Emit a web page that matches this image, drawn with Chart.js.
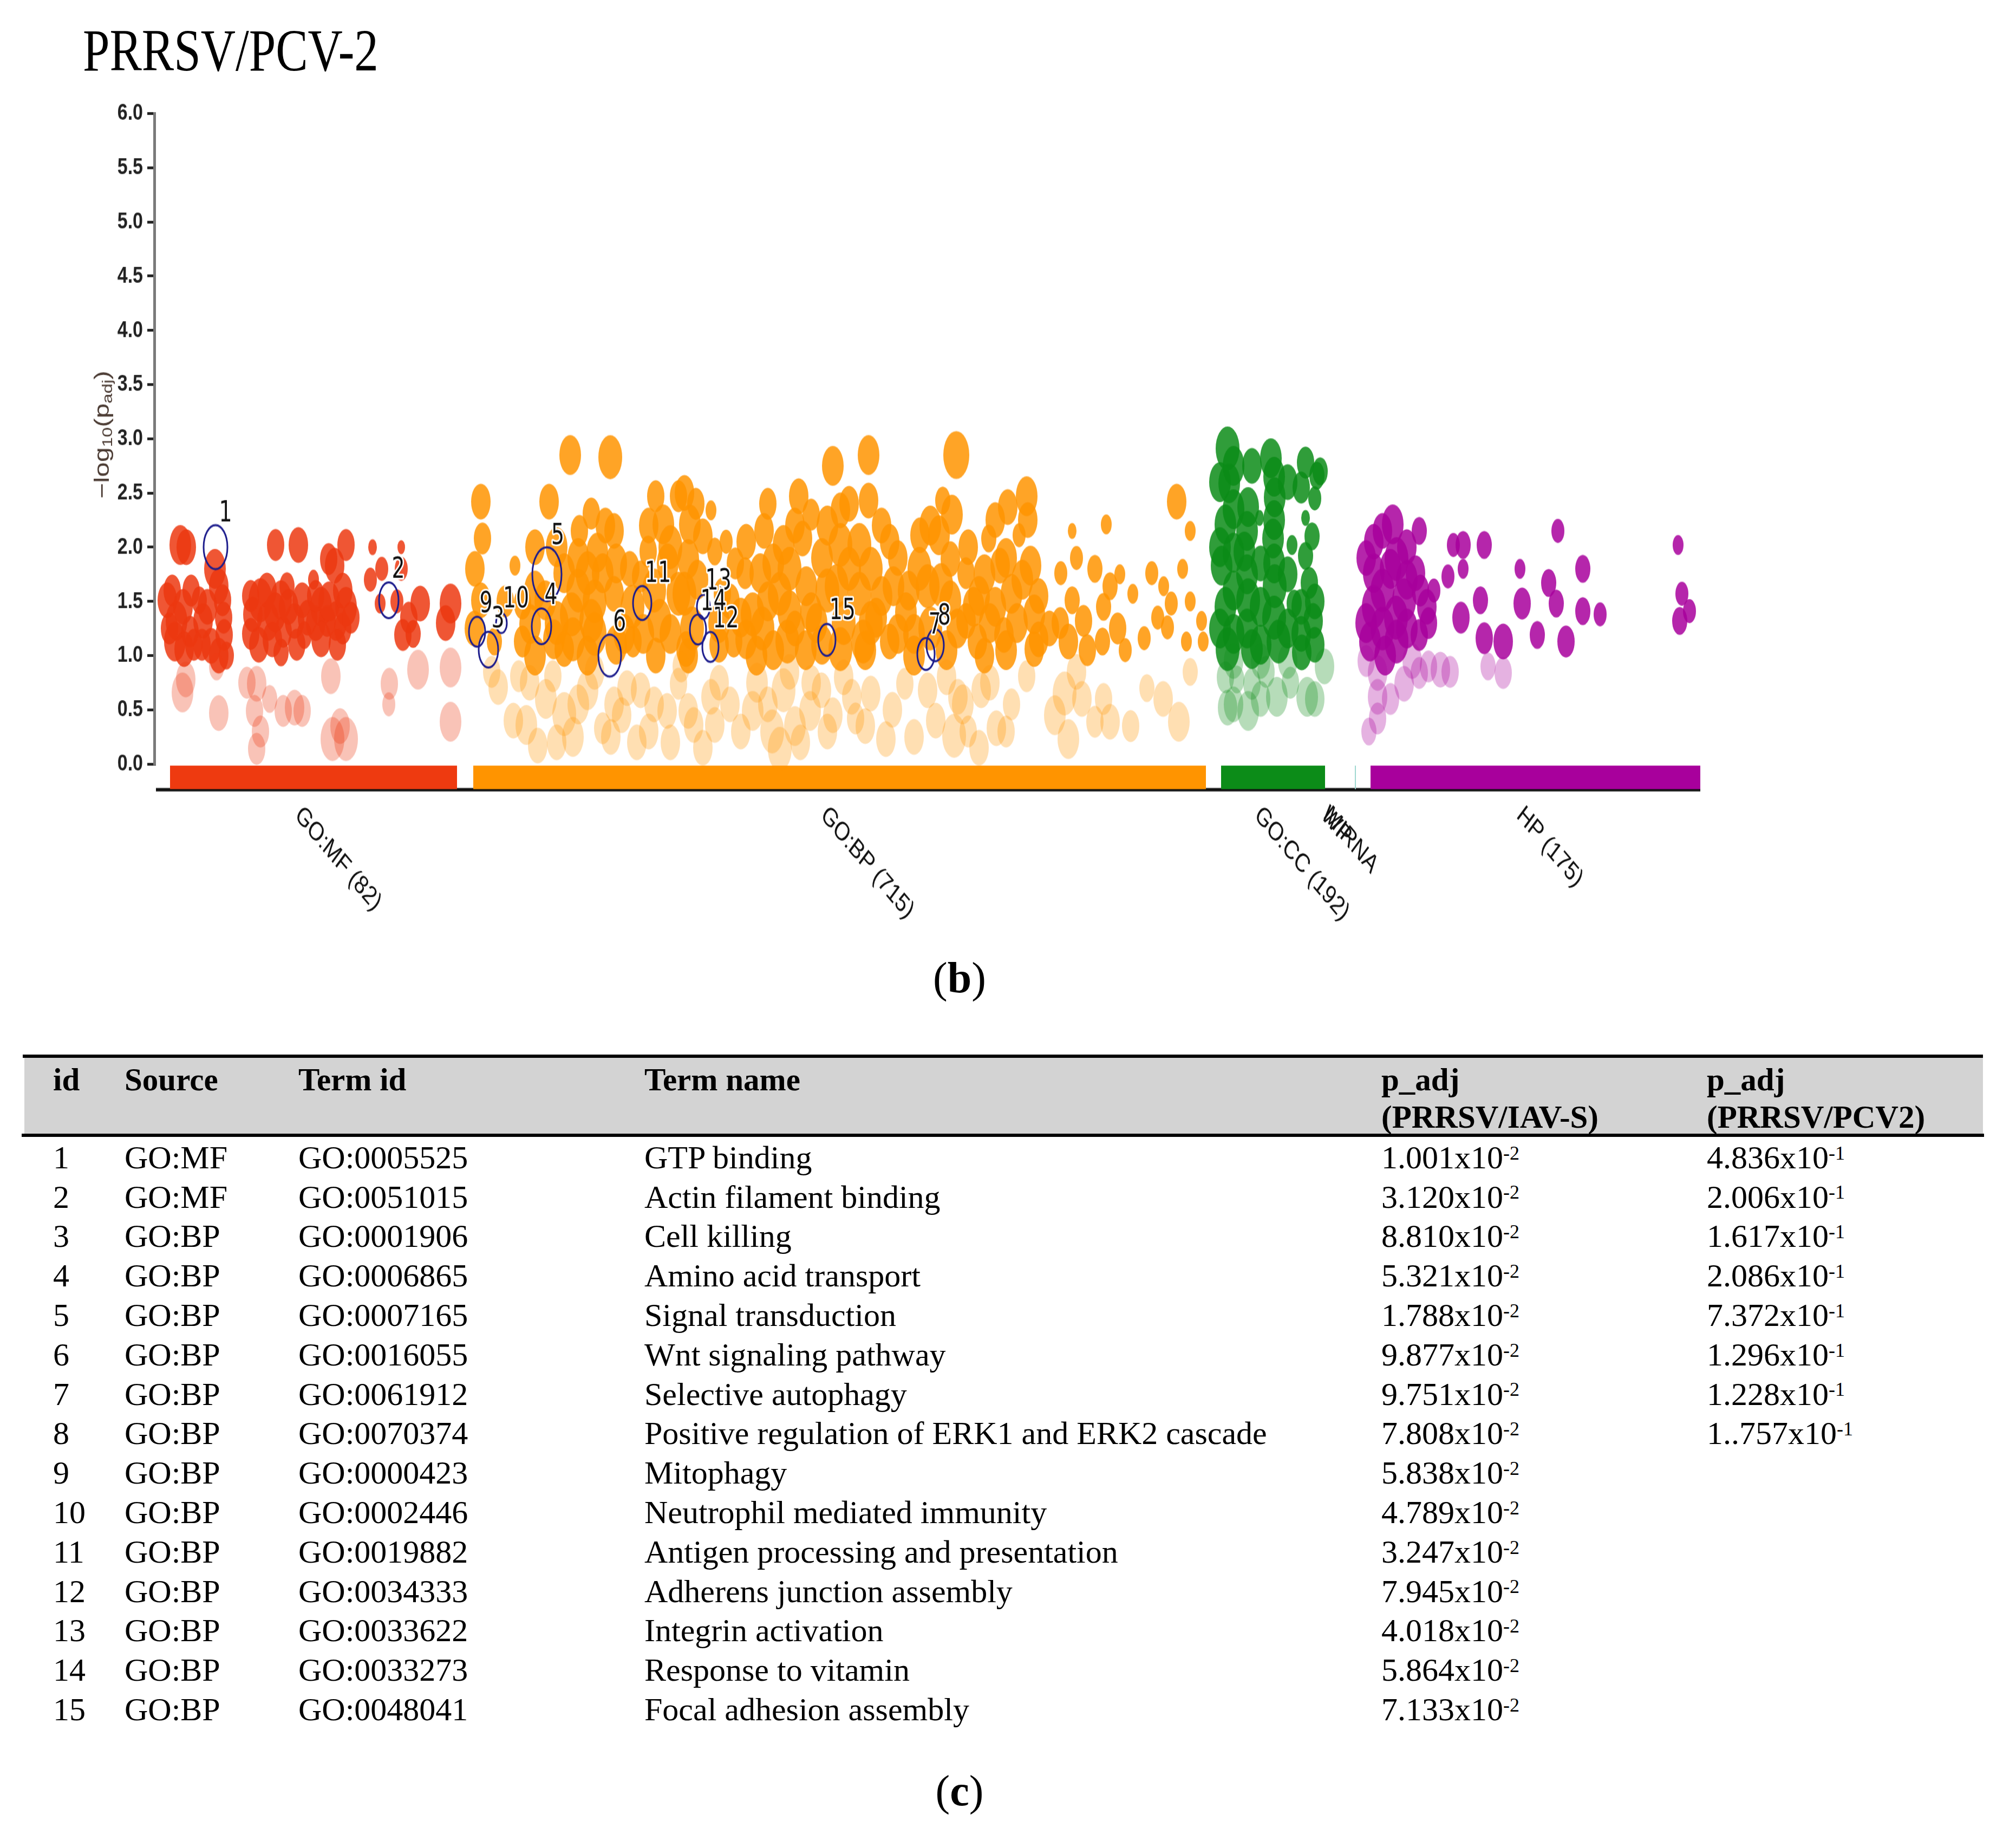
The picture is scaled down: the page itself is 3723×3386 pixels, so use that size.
<!DOCTYPE html>
<html lang="en">
<head>
<meta charset="UTF-8">
<title>PRRSV/PCV-2</title>
<script src="https://cdn.jsdelivr.net/npm/chart.js@4.4.0/dist/chart.umd.min.js"></script>
<style>
    html, body { margin: 0; padding: 0; background: #fff; }
    body {
        width: 3723px; height: 3386px; position: relative; overflow: hidden;
        font-family: "Liberation Serif", "Times New Roman", serif; color: #000;
    }
    #title {
        position: absolute; left: 153px; top: 38px;
        font-size: 89px; line-height: 89px; white-space: nowrap;
        transform: scaleY(1.24); transform-origin: 0 0;
    }
    /* the plot panel of the reference is stretched vertically */
    #plotWrap {
        position: absolute; left: 0; top: 0; width: 3723px; height: 1400px;
        transform: scaleY(1.27); transform-origin: 0 0;
    }
    .txt { position: absolute; white-space: nowrap; }
    .sup { font-size: 0.6em; position: relative; top: -0.45em; }
    .rule { position: absolute; background: #000; }
    #headBg { position: absolute; background: #d3d3d3; }
</style>
</head>
<body>

<div id="title">PRRSV/PCV-2</div>
<div id="plotWrap"><canvas id="manhattan"></canvas></div>
<div id="headBg" style="left:45px; top:1953px; width:3617px; height:140px;"></div>
<div class="rule" style="left:42px; top:1947px; width:3620px; height:6px;"></div>
<div class="rule" style="left:40px; top:2093px; width:3624px; height:6px;"></div>

<script>
    // ---- plot data (x = position along the source axis, y = -log10(p_adj), r = bubble size) ----
    const yTicks = [0, 0.5, 1, 1.5, 2, 2.5, 3, 3.5, 4, 4.5, 5, 5.5, 6];
    const xMax = 285.2;

    const sourceNames  = ['GO:MF (82)', 'GO:BP (715)', 'GO:CC (192)', 'WP', 'MIRNA', 'HP (175)'];
    const sourceStart  = [2.6, 58.6, 196.7, 218.9, 221.4, 224.3];
    const sourceEnd    = [55.6, 193.9, 215.9, 218.9, 221.6, 285.2];
    const sourceLabelX = [29.1, 126.2, 206.3, 218.6, 219.0, 254.7];
    const sourceColors = ['#ee3a10', '#ff9400', '#0c8c18', '#3a9fc0', '#9fd8d0', '#a8009c'];

    const mfPoints = [
        [4.5, 2.02, 20], [5.6, 2.0, 18], [2.1, 1.51, 18], [3.8, 1.32, 20], [3.5, 1.13, 20], [5.2, 1.06, 18],
        [6.3, 1.22, 16], [8.0, 1.51, 14], [8.7, 1.32, 18], [10.2, 1.09, 18], [11.6, 1.0, 18], [10.9, 1.8, 20],
        [12.3, 1.51, 16], [12.6, 1.19, 16], [11.6, 1.64, 18], [19.3, 1.51, 22], [17.9, 1.38, 18], [20.7, 1.32, 20],
        [22.1, 2.02, 16], [26.3, 2.02, 18], [23.1, 1.51, 20], [24.2, 1.64, 14], [23.5, 1.22, 16], [23.1, 1.03, 14],
        [27.0, 1.51, 18], [25.6, 1.32, 18], [27.4, 1.19, 14], [29.1, 1.7, 10], [30.5, 1.45, 20], [31.9, 1.89, 16],
        [33.0, 1.83, 18], [35.1, 2.02, 16], [33.3, 1.32, 20], [35.1, 1.45, 20], [31.6, 1.32, 16], [40.0, 2.0, 8],
        [45.3, 2.0, 7], [39.6, 1.7, 12], [41.7, 1.8, 12], [45.3, 1.8, 12], [41.4, 1.48, 10], [46.7, 1.35, 16],
        [45.6, 1.19, 16], [48.8, 1.48, 18], [54.4, 1.48, 20], [21.5, 1.15, 18], [17.5, 1.55, 16], [29.5, 1.3, 18],
        [34.5, 1.25, 16], [3.0, 1.6, 16], [7.0, 1.1, 16], [2.5, 1.25, 16], [5.0, 1.45, 18], [6.5, 1.6, 16],
        [8.5, 1.1, 16], [9.5, 1.45, 18], [12.5, 1.35, 16], [13.0, 1.0, 14], [17.5, 1.2, 16], [19.0, 1.1, 18],
        [20.5, 1.6, 18], [22.0, 1.4, 20], [24.5, 1.45, 18], [26.0, 1.1, 16], [28.0, 1.35, 18], [29.5, 1.55, 16],
        [32.0, 1.5, 20], [34.5, 1.6, 18], [36.0, 1.35, 16], [33.5, 1.1, 16], [30.5, 1.15, 18], [44.5, 1.5, 12],
        [47.5, 1.2, 14], [53.5, 1.3, 18],
        [4.9, 0.66, 20], [11.2, 0.9, 14], [11.6, 0.47, 18], [18.6, 0.74, 18], [18.2, 0.49, 16], [19.3, 0.3, 16],
        [18.6, 0.14, 16], [23.5, 0.49, 16], [25.6, 0.52, 18], [27.0, 0.49, 16], [32.3, 0.81, 18], [32.6, 0.23, 22],
        [35.1, 0.23, 22], [43.1, 0.74, 16], [48.4, 0.87, 20], [54.4, 0.89, 20], [54.4, 0.39, 20], [16.8, 0.75, 16],
        [21.0, 0.6, 14], [34.0, 0.35, 18], [5.5, 0.78, 18], [43.0, 0.55, 12]
    ];

    const bpPoints = [
        [60.0, 2.42, 18], [60.3, 2.08, 16], [58.9, 1.8, 18], [60.0, 1.51, 18], [58.8, 1.25, 18], [62.5, 1.13, 14],
        [66.3, 1.83, 10], [67.7, 1.48, 16], [67.7, 1.13, 16], [72.6, 2.42, 18], [76.5, 2.85, 20], [83.9, 2.83, 22],
        [80.4, 2.31, 16], [84.6, 2.15, 18], [78.2, 2.15, 16], [75.4, 1.76, 20], [79.7, 1.76, 22], [82.5, 1.76, 20],
        [76.8, 1.38, 22], [80.4, 1.32, 22], [75.4, 1.06, 18], [79.7, 1.0, 20], [84.6, 1.57, 18], [71.9, 1.51, 20],
        [69.1, 1.29, 20], [89.5, 1.73, 16], [92.3, 2.47, 16], [93.7, 2.21, 20], [96.5, 2.47, 16], [98.6, 2.21, 20],
        [93.0, 1.32, 22], [96.5, 1.57, 22], [92.3, 1.0, 18], [97.9, 1.06, 18], [88.1, 1.13, 16], [90.9, 1.96, 16],
        [97.6, 2.5, 18], [99.7, 2.4, 16], [102.5, 2.34, 10], [98.3, 1.89, 20], [103.2, 1.96, 14], [105.3, 2.05, 12],
        [97.6, 1.57, 22], [104.6, 1.57, 16], [98.3, 1.0, 18], [106.7, 1.13, 16], [108.8, 1.76, 16], [113.0, 2.4, 16],
        [112.3, 2.15, 18], [111.6, 1.76, 20], [110.2, 1.38, 22], [110.9, 1.0, 20], [115.9, 2.02, 20], [115.2, 1.57, 22],
        [116.6, 1.13, 22], [118.7, 2.47, 18], [119.4, 2.08, 18], [120.1, 1.64, 20], [118.0, 1.25, 18], [125.0, 2.75, 20],
        [131.6, 2.85, 20], [131.6, 2.43, 18], [126.4, 2.34, 18], [126.4, 2.02, 22], [129.9, 2.02, 22], [125.7, 1.64, 22],
        [129.9, 1.57, 22], [126.4, 1.06, 22], [130.6, 1.13, 22], [135.5, 2.05, 18], [136.2, 1.64, 20], [135.5, 1.13, 18],
        [141.1, 2.11, 18], [145.3, 2.43, 14], [147.8, 2.85, 24], [144.6, 2.11, 20], [146.7, 1.89, 18], [142.5, 1.64, 22],
        [146.7, 1.51, 20], [149.6, 1.76, 16], [149.6, 1.32, 18], [151.7, 1.13, 18], [153.8, 2.08, 14], [157.3, 2.37, 18],
        [160.8, 2.47, 20], [159.4, 2.11, 12], [155.9, 1.83, 18], [158.0, 1.57, 20], [161.5, 1.83, 20], [162.2, 1.38, 20],
        [156.6, 1.19, 18], [162.2, 1.06, 18], [169.2, 2.15, 8], [175.5, 2.21, 10], [167.1, 1.76, 12], [169.2, 1.51, 14],
        [168.5, 1.13, 18], [171.3, 1.32, 16], [173.4, 1.8, 14], [176.2, 1.64, 14], [177.6, 1.25, 16], [174.8, 1.13, 14],
        [180.4, 1.57, 10], [183.9, 1.76, 12], [186.1, 1.64, 10], [188.5, 2.42, 18], [191.0, 2.15, 10], [189.6, 1.8, 10],
        [187.5, 1.48, 12], [186.8, 1.26, 12], [190.3, 1.13, 10], [193.1, 1.32, 10], [193.4, 1.13, 10], [182.5, 1.16, 12],
        [86.5, 1.2, 20], [87.5, 1.8, 18], [94.5, 1.85, 20], [104.0, 1.3, 20], [108.0, 1.35, 20], [113.0, 1.5, 20],
        [122.0, 1.3, 20], [123.0, 1.9, 20], [133.0, 1.35, 20], [138.5, 1.4, 20], [140.0, 1.2, 20], [152.0, 1.55, 20],
        [154.0, 1.3, 20], [165.0, 1.25, 18], [64.5, 1.5, 16], [73.5, 1.15, 20], [78.0, 1.6, 22], [81.5, 1.95, 20],
        [70.0, 1.0, 20], [70.0, 1.6, 20], [70.0, 2.0, 18], [74.0, 1.3, 22], [74.0, 2.0, 20], [77.0, 1.15, 22],
        [78.0, 1.9, 20], [81.0, 1.2, 22], [81.0, 1.5, 22], [83.0, 2.2, 18], [85.0, 1.1, 20], [85.0, 1.85, 20],
        [88.0, 1.45, 22], [90.0, 1.2, 20], [91.0, 2.2, 18], [92.0, 1.6, 22], [95.0, 1.2, 20], [95.0, 2.0, 22],
        [99.0, 1.25, 22], [100.0, 1.7, 20], [101.0, 2.1, 18], [104.0, 1.1, 18], [106.0, 1.5, 18], [107.0, 1.85, 16],
        [109.0, 1.15, 20], [109.0, 2.05, 18], [112.0, 1.25, 22], [114.0, 1.85, 20], [114.0, 1.05, 20], [117.0, 1.4, 22],
        [117.0, 1.8, 22], [118.0, 2.2, 18], [120.0, 1.05, 20], [121.0, 1.4, 20], [121.0, 2.3, 16], [123.0, 1.1, 20],
        [124.0, 1.6, 22], [124.0, 2.2, 20], [127.0, 1.3, 22], [128.0, 1.8, 22], [128.0, 2.4, 18], [131.0, 1.05, 20],
        [132.0, 1.8, 22], [132.0, 1.3, 22], [134.0, 1.55, 20], [134.0, 2.2, 18], [137.0, 1.2, 20], [137.0, 1.9, 18],
        [139.0, 1.6, 20], [140.0, 1.0, 20], [141.0, 1.8, 22], [143.0, 1.25, 22], [143.0, 2.2, 20], [145.0, 1.65, 22],
        [146.0, 1.05, 20], [147.0, 2.3, 20], [148.0, 1.25, 20], [150.0, 2.0, 18], [151.0, 1.45, 20], [153.0, 1.0, 18],
        [153.0, 1.75, 20], [155.0, 1.45, 20], [155.0, 2.25, 18], [157.0, 1.05, 20], [157.0, 1.9, 20], [159.0, 1.3, 20],
        [160.0, 1.7, 20], [161.0, 2.25, 18], [163.0, 1.55, 18], [163.0, 1.15, 18], [167.0, 1.3, 16], [170.0, 1.9, 12],
        [172.0, 1.05, 16], [175.0, 1.45, 14], [178.0, 1.75, 10], [179.0, 1.05, 12], [185.0, 1.35, 12], [191.0, 1.5, 10],
        [63.2, 0.71, 18], [68.4, 0.36, 20], [70.5, 0.17, 18], [75.4, 0.46, 22], [79.7, 0.68, 20], [84.6, 0.55, 18],
        [88.8, 0.2, 18], [89.5, 0.68, 18], [94.4, 0.49, 18], [99.3, 0.36, 18], [73.3, 0.81, 16], [82.5, 0.33, 16],
        [67.0, 0.81, 16], [96.5, 0.74, 16], [98.3, 0.49, 18], [102.5, 0.62, 18], [103.2, 0.36, 18], [110.2, 0.49, 20],
        [113.8, 0.3, 22], [115.9, 0.68, 22], [115.2, 0.14, 22], [120.8, 0.49, 20], [122.9, 0.68, 18], [128.5, 0.62, 18],
        [129.2, 0.42, 16], [134.8, 0.23, 18], [142.5, 0.68, 18], [147.4, 0.26, 22], [148.1, 0.62, 18], [152.4, 0.68, 18],
        [155.2, 0.33, 18], [167.8, 0.65, 22], [168.5, 0.23, 20], [173.4, 0.39, 16], [176.2, 0.39, 18], [188.9, 0.39, 20],
        [138.3, 0.74, 16], [160.8, 0.81, 16], [72.0, 0.6, 20], [77.0, 0.25, 20], [86.0, 0.45, 18], [91.0, 0.3, 18],
        [106.0, 0.55, 18], [118.0, 0.35, 20], [125.0, 0.45, 18], [132.0, 0.65, 18], [144.0, 0.4, 18], [150.0, 0.3, 16],
        [158.0, 0.55, 16], [171.0, 0.6, 18], [183.0, 0.7, 14], [62.0, 0.85, 16], [66.0, 0.4, 18], [69.0, 0.75, 18],
        [74.0, 0.2, 18], [78.0, 0.55, 20], [81.0, 0.85, 18], [84.0, 0.25, 18], [87.0, 0.7, 18], [92.0, 0.55, 18],
        [95.0, 0.2, 18], [97.0, 0.9, 16], [101.0, 0.15, 18], [104.0, 0.75, 18], [108.0, 0.3, 18], [111.0, 0.75, 20],
        [113.0, 0.55, 18], [117.0, 0.85, 18], [119.0, 0.2, 18], [121.0, 0.75, 18], [124.0, 0.3, 18], [127.0, 0.8, 18],
        [131.0, 0.35, 18], [136.0, 0.5, 18], [140.0, 0.25, 18], [146.0, 0.8, 18], [149.0, 0.55, 20], [152.0, 0.15, 18],
        [154.0, 0.75, 18], [157.0, 0.3, 16], [166.0, 0.45, 20], [170.0, 0.85, 18], [175.0, 0.6, 16], [180.0, 0.35, 16],
        [186.0, 0.6, 18], [191.0, 0.85, 14]
    ];

    const ccPoints = [
        [197.9, 2.91, 22], [198.2, 2.59, 20], [197.5, 2.21, 20], [196.8, 1.83, 20], [197.5, 1.45, 20], [197.9, 1.06, 22],
        [202.4, 2.75, 18], [201.7, 2.37, 20], [201.0, 1.96, 20], [201.7, 1.51, 22], [202.4, 1.06, 20], [205.9, 2.82, 20],
        [206.6, 2.46, 20], [206.3, 2.08, 20], [206.6, 1.64, 22], [207.3, 1.13, 22], [203.8, 2.27, 8], [212.3, 2.78, 16],
        [214.4, 2.66, 14], [212.3, 2.27, 8], [212.3, 1.92, 14], [213.0, 1.67, 16], [213.7, 1.32, 18], [211.6, 1.03, 18],
        [209.8, 2.02, 10], [210.2, 1.48, 14], [196.5, 2.6, 20], [196.5, 1.25, 20], [196.5, 2.0, 20], [199.0, 2.75, 20],
        [199.0, 2.35, 20], [199.0, 1.95, 20], [199.0, 1.6, 20], [199.0, 1.2, 20], [201.5, 2.15, 20], [201.5, 1.75, 20],
        [201.5, 1.25, 20], [204.0, 1.85, 18], [204.0, 1.45, 20], [204.0, 1.1, 20], [206.5, 2.65, 20], [206.5, 2.25, 20],
        [206.5, 1.85, 20], [206.5, 1.35, 22], [209.0, 2.6, 18], [209.0, 1.75, 18], [209.0, 1.25, 20], [211.5, 2.55, 16],
        [211.5, 1.45, 18], [211.5, 1.2, 18], [213.5, 2.1, 14], [214.0, 1.5, 18], [214.0, 1.1, 18], [215.0, 2.7, 14],
        [214.0, 2.45, 12],
        [197.9, 0.52, 18], [201.7, 0.49, 20], [202.4, 0.74, 16], [207.0, 0.62, 20], [212.6, 0.62, 20], [215.8, 0.9, 18],
        [199.6, 0.78, 14], [199.0, 0.95, 18], [204.0, 0.95, 18], [209.0, 0.95, 18], [199.0, 0.55, 18], [204.0, 0.6, 18],
        [209.5, 0.75, 16], [214.0, 0.6, 18], [197.5, 0.8, 16], [205.0, 0.85, 16]
    ];

    const hpPoints = [
        [228.4, 2.21, 20], [224.9, 2.05, 18], [233.3, 2.15, 14], [224.9, 1.76, 20], [229.1, 1.89, 22], [232.6, 1.76, 18],
        [224.9, 1.45, 22], [230.5, 1.51, 22], [234.7, 1.45, 18], [224.2, 1.13, 20], [229.1, 1.13, 22], [233.3, 1.19, 16],
        [239.6, 2.02, 12], [241.4, 2.02, 14], [245.3, 2.02, 14], [238.6, 1.73, 12], [241.4, 1.8, 10], [241.0, 1.35, 16],
        [244.6, 1.51, 14], [245.3, 1.16, 16], [248.8, 1.13, 18], [251.9, 1.8, 10], [252.3, 1.48, 16], [255.1, 1.19, 14],
        [258.9, 2.15, 12], [257.2, 1.67, 14], [258.6, 1.48, 14], [260.4, 1.13, 16], [263.5, 1.8, 14], [263.5, 1.41, 14],
        [266.7, 1.38, 12], [281.1, 2.02, 10], [281.8, 1.57, 12], [281.4, 1.32, 14], [283.2, 1.41, 12],
        [223.5, 1.3, 20], [223.5, 1.9, 18], [226.5, 2.15, 18], [226.5, 1.6, 22], [226.5, 1.25, 22], [227.0, 1.0, 20],
        [228.0, 1.8, 20], [229.0, 1.35, 22], [231.0, 2.0, 18], [231.0, 1.7, 20], [231.0, 1.25, 20], [232.0, 0.95, 18],
        [233.5, 1.6, 16], [235.0, 1.3, 16], [236.0, 1.6, 12], [223.5, 0.95, 16],
        [225.6, 0.84, 18], [225.6, 0.62, 18], [225.6, 0.42, 16], [230.5, 0.74, 18], [233.3, 0.84, 16], [237.2, 0.87, 18],
        [246.0, 0.9, 14], [248.8, 0.84, 16], [224.0, 0.3, 14], [228.0, 0.6, 16], [235.0, 0.9, 16], [239.0, 0.85, 16]
    ];

    // highlighted terms (ids of the table)
    const hlIds = [1, 2, 3, 4, 5, 6, 7, 8, 9, 10, 11, 12, 13, 14, 15];
    const hlX   = [11.0, 43.0, 61.4, 71.2, 72.2, 83.8, 142.2, 143.9, 59.3, 63.8, 89.8, 102.4, 101.1, 100.1, 123.9];
    const hlY   = [2.0, 1.51, 1.055, 1.27, 1.75, 1.0, 1.015, 1.095, 1.22, 1.3, 1.485, 1.08, 1.45, 1.24, 1.145];
    const hlR   = [22, 18, 18, 18, 27, 21, 16, 16, 15, 10, 17, 15, 12, 15, 16];

    // ---- table data ----
    const tblIds     = ['1','2','3','4','5','6','7','8','9','10','11','12','13','14','15'];
    const tblSources = ['GO:MF','GO:MF','GO:BP','GO:BP','GO:BP','GO:BP','GO:BP','GO:BP','GO:BP','GO:BP','GO:BP','GO:BP','GO:BP','GO:BP','GO:BP'];
    const tblTermIds = ['GO:0005525','GO:0051015','GO:0001906','GO:0006865','GO:0007165','GO:0016055','GO:0061912','GO:0070374',
                        'GO:0000423','GO:0002446','GO:0019882','GO:0034333','GO:0033622','GO:0033273','GO:0048041'];
    const tblNames   = ['GTP binding','Actin filament binding','Cell killing','Amino acid transport','Signal transduction',
                        'Wnt signaling pathway','Selective autophagy','Positive regulation of ERK1 and ERK2 cascade','Mitophagy',
                        'Neutrophil mediated immunity','Antigen processing and presentation','Adherens junction assembly',
                        'Integrin activation','Response to vitamin','Focal adhesion assembly'];
    const padjIAV    = ['1.001','3.120','8.810','5.321','1.788','9.877','9.751','7.808','5.838','4.789','3.247','7.945','4.018','5.864','7.133'];
    const padjPCV2   = ['4.836','2.006','1.617','2.086','7.372','1.296','1.228','1..757'];

    // ---- bubbles drawn as ellipses (the reference is stretched) ----
    const ELLIPSE_RATIO = 1.45;
    const imgCache = {};
    function ellipseImage(fill, stroke, r) {
        const key = fill + '|' + stroke + '|' + r;
        if (imgCache[key]) return imgCache[key];
        const w = 2 * r, h = 2 * r * ELLIPSE_RATIO, pad = 4;
        const c = document.createElement('canvas');
        c.width = Math.ceil(w + pad * 2);
        c.height = Math.ceil(h + pad * 2);
        const g = c.getContext('2d');
        g.beginPath();
        g.ellipse(c.width / 2, c.height / 2, w / 2, h / 2, 0, 0, Math.PI * 2);
        if (fill) { g.fillStyle = fill; g.fill(); }
        if (stroke) { g.strokeStyle = stroke; g.lineWidth = 3; g.stroke(); }
        imgCache[key] = c;
        return c;
    }

    function toXYR(p) { return { x: p[0], y: p[1], r: p[2] }; }

    function sourceSets(points, rgb, name) {
        return [
            {
                label: name + ' (p > 0.1)',
                data: points.filter(p => p[1] < 1).map(toXYR),
                order: 3,
                pointStyle: c => c.raw ? ellipseImage('rgba(' + rgb + ',0.3)', null, c.raw.r) : 'circle'
            },
            {
                label: name,
                data: points.filter(p => p[1] >= 1).map(toXYR),
                order: 2,
                pointStyle: c => c.raw ? ellipseImage('rgba(' + rgb + ',0.85)', null, c.raw.r) : 'circle'
            }
        ];
    }

    const datasets = [
        {
            label: 'highlighted',
            data: hlIds.map((id, i) => ({ x: hlX[i], y: hlY[i], r: hlR[i], id: id })),
            order: 1,
            pointStyle: c => c.raw ? ellipseImage(null, '#1c1c8c', c.raw.r) : 'circle'
        },
        ...sourceSets(mfPoints, '236,56,16', 'GO:MF'),
        ...sourceSets(bpPoints, '255,148,0', 'GO:BP'),
        ...sourceSets(ccPoints, '12,140,24', 'GO:CC'),
        ...sourceSets(hpPoints, '168,0,156', 'HP')
    ];

    // axis line, source bars, source labels, y title
    const decorPlugin = {
        id: 'decor',
        beforeDatasetsDraw(chart) {
            const { ctx, chartArea } = chart;
            const x = chart.scales.x, y = chart.scales.y;
            ctx.save();

            ctx.strokeStyle = '#7a7a7a';
            ctx.lineWidth = 5;
            ctx.beginPath();
            ctx.moveTo(chartArea.left - 2.5, y.getPixelForValue(yTicks[yTicks.length - 1]) - 2);
            ctx.lineTo(chartArea.left - 2.5, y.getPixelForValue(0) + 2);
            ctx.stroke();

            const yb = y.getPixelForValue(-0.25);
            ctx.strokeStyle = '#111';
            ctx.lineWidth = 5;
            ctx.beginPath();
            ctx.moveTo(chartArea.left, yb - 2);
            ctx.lineTo(x.getPixelForValue(xMax), yb - 2);
            ctx.stroke();

            const top = y.getPixelForValue(-0.015), bot = y.getPixelForValue(-0.232);
            sourceNames.forEach((n, i) => {
                const x0 = x.getPixelForValue(sourceStart[i]);
                const x1 = x.getPixelForValue(sourceEnd[i]);
                if (x1 - x0 < 0.5) return;
                ctx.fillStyle = sourceColors[i];
                ctx.fillRect(x0, top, Math.max(x1 - x0, 2), bot - top);
            });

            ctx.fillStyle = '#111';
            ctx.font = '38px "Liberation Sans", Arial, sans-serif';
            ctx.textAlign = 'left';
            ctx.textBaseline = 'top';
            sourceNames.forEach((n, i) => {
                ctx.save();
                ctx.translate(x.getPixelForValue(sourceLabelX[i]) - 16, yb + 16);
                ctx.rotate(43 * Math.PI / 180);
                ctx.fillText(n, 0, 0);
                ctx.restore();
            });

            // -log10(p_adj)
            const parts = [['\u2212log', 39, 0], ['10', 26, 10], ['(p', 39, 0], ['adj', 26, 10], [')', 39, 0]];
            ctx.fillStyle = '#4a3a32';
            ctx.textBaseline = 'middle';
            let total = 0;
            parts.forEach(p => { ctx.font = p[1] + 'px "Liberation Sans", Arial, sans-serif'; total += ctx.measureText(p[0]).width; });
            ctx.translate(190, (y.getPixelForValue(3.5) + y.getPixelForValue(2.5)) / 2 - 6);
            ctx.rotate(-Math.PI / 2);
            let pos = -total / 2;
            parts.forEach(p => {
                ctx.font = p[1] + 'px "Liberation Sans", Arial, sans-serif';
                ctx.fillText(p[0], pos, p[2]);
                pos += ctx.measureText(p[0]).width;
            });
            ctx.restore();
        },
        afterDatasetsDraw(chart) {
            const meta = chart.getDatasetMeta(0);
            const ctx = chart.ctx;
            ctx.save();
            ctx.font = '42px "Liberation Sans Narrow", "DejaVu Sans Condensed", "Arial Narrow", sans-serif';
            ctx.textAlign = 'left';
            ctx.textBaseline = 'bottom';
            ctx.lineJoin = 'round';
            meta.data.forEach((el, i) => {
                const r = hlR[i];
                const tx = el.x + r * 0.3, ty = el.y - r * ELLIPSE_RATIO * 0.85;
                ctx.strokeStyle = '#fff';
                ctx.lineWidth = 5;
                ctx.strokeText(String(hlIds[i]), tx, ty);
                ctx.fillStyle = '#111';
                ctx.fillText(String(hlIds[i]), tx, ty);
            });
            ctx.restore();
        }
    };

    new Chart(document.getElementById('manhattan'), {
        type: 'bubble',
        data: { datasets: datasets },
        options: {
            responsive: true,
            maintainAspectRatio: false,
            animation: false,
            layout: { padding: { left: 0, top: 165, right: 583, bottom: 250 } },
            plugins: { legend: { display: false }, tooltip: { enabled: false } },
            scales: {
                x: { type: 'linear', min: 0, max: xMax, display: false },
                y: {
                    type: 'linear', min: -0.25, max: 6,
                    afterFit: s => { s.width = 288; },
                    afterBuildTicks: s => { s.ticks = yTicks.map(v => ({ value: v })); },
                    ticks: {
                        autoSkip: false, padding: 8, color: '#222',
                        font: { family: '"Liberation Sans", Arial, sans-serif', size: 34, weight: 'bold' },
                        callback: v => Number(v).toFixed(1)
                    },
                    grid: { drawOnChartArea: false, drawTicks: true, tickLength: 16, tickWidth: 4, tickColor: '#222', lineWidth: 4, color: '#222' },
                    border: { display: false }
                }
            }
        },
        plugins: [decorPlugin]
    });

    // ---- captions and table as real text ----
    function putText(html, x, base, size, bold, center) {
        const d = document.createElement('div');
        d.className = 'txt';
        d.style.top = (base - 0.8375 * size) + 'px';
        d.style.fontSize = size + 'px';
        d.style.lineHeight = size + 'px';
        if (bold) d.style.fontWeight = 'bold';
        d.innerHTML = html;
        document.body.appendChild(d);
        if (center) d.style.left = (x - d.offsetWidth / 2) + 'px';
        else d.style.left = x + 'px';
    }

    putText('(<b>b</b>)', 1772, 1832, 80, false, true);
    putText('(<b>c</b>)', 1772, 3333, 80, false, true);

    const colX = [98, 230, 551, 1190, 2551, 3152];
    const headSize = 59, bodySize = 60;
    putText('id', colX[0], 2013, headSize, true);
    putText('Source', colX[1], 2013, headSize, true);
    putText('Term id', colX[2], 2013, headSize, true);
    putText('Term name', colX[3], 2013, headSize, true);
    putText('p_adj', colX[4], 2013, headSize, true);
    putText('(PRRSV/IAV-S)', colX[4], 2082, headSize, true);
    putText('p_adj', colX[5], 2013, headSize, true);
    putText('(PRRSV/PCV2)', colX[5], 2082, headSize, true);

    const rowBase0 = 2157, rowStep = 72.8;
    tblIds.forEach((id, i) => {
        const b = rowBase0 + i * rowStep;
        putText(id, colX[0], b, bodySize);
        putText(tblSources[i], colX[1], b, bodySize);
        putText(tblTermIds[i], colX[2], b, bodySize);
        putText(tblNames[i], colX[3], b, bodySize);
        putText(padjIAV[i] + 'x10<span class="sup">-2</span>', colX[4], b, bodySize);
        if (padjPCV2[i]) putText(padjPCV2[i] + 'x10<span class="sup">-1</span>', colX[5], b, bodySize);
    });
</script>
</body>
</html>
